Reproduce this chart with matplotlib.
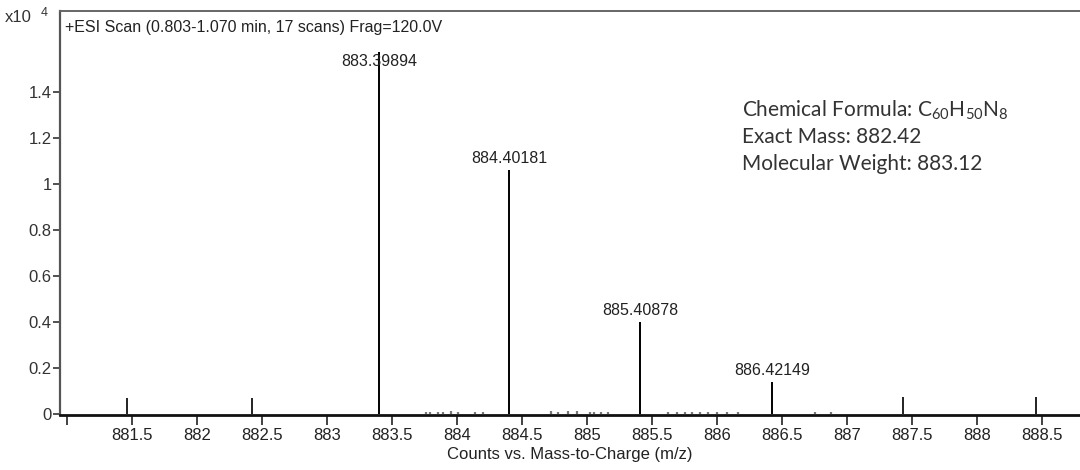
import matplotlib
matplotlib.use("Agg")
import matplotlib.pyplot as plt

# main peaks (m/z, counts x10^4)
peak_mz = [883.39894, 884.40181, 885.40878, 886.42149]
peak_counts = [1.57, 1.06, 0.396, 0.135]
peak_labels = ["883.39894", "884.40181", "885.40878", "886.42149"]

# reference marks
ref_mz = [881.46, 882.42, 887.43, 888.45]
ref_counts = [0.066, 0.068, 0.07, 0.07]

# tiny noise peaks
noise_mz = [883.76, 883.79, 883.85, 883.89, 883.95, 884.01, 884.14, 884.20,
            884.72, 884.78, 884.85, 884.92, 885.02, 885.05, 885.11, 885.16,
            885.62, 885.69, 885.75, 885.81, 885.87, 885.93, 886.00, 886.08,
            886.16, 886.75, 886.88]
noise_counts = [0.005, 0.006, 0.006, 0.008, 0.011, 0.007, 0.006, 0.005,
                0.009, 0.008, 0.012, 0.009, 0.006, 0.005, 0.005, 0.005,
                0.006, 0.005, 0.006, 0.006, 0.006, 0.006, 0.005, 0.006,
                0.007, 0.006, 0.006]

x_ticks = [881.0, 881.5, 882, 882.5, 883, 883.5, 884, 884.5, 885, 885.5,
           886, 886.5, 887, 887.5, 888, 888.5]
x_ticklabels = ["", "881.5", "882", "882.5", "883", "883.5", "884", "884.5",
                "885", "885.5", "886", "886.5", "887", "887.5", "888", "888.5"]
y_ticks = [0, 0.2, 0.4, 0.6, 0.8, 1.0, 1.2, 1.4]
y_ticklabels = ["0", "0.2", "0.4", "0.6", "0.8", "1", "1.2", "1.4"]

info_lines = ["Chemical Formula: $\\mathregular{C_{60}H_{50}N_{8}}$",
              "Exact Mass: 882.42",
              "Molecular Weight: 883.12"]

plt.rcParams["font.family"] = ["Liberation Sans", "DejaVu Sans"]

fig = plt.figure(figsize=(10.8, 4.7), dpi=100)
ax = fig.add_axes([60 / 1080, 1 - 415 / 470, 1 - 60 / 1080, 404 / 470])

ax.vlines(peak_mz, 0, peak_counts, color="black", lw=1.4)
ax.vlines(ref_mz, 0, ref_counts, color="#222222", lw=1.4)
ax.vlines(noise_mz, 0, noise_counts, color="#777777", lw=1.6)

# peak labels sit just above each line, kept under the scan title
for mz, c, lab in zip(peak_mz, peak_counts, peak_labels):
    ax.text(mz, min(c + 0.05, 1.53), lab, ha="center", va="center",
            fontsize=11.5, color="#222222")

ax.set_xlim(880.946, 888.792)
ax.set_ylim(-0.0065, 1.75)
ax.set_xticks(x_ticks)
ax.set_xticklabels(x_ticklabels)
ax.set_yticks(y_ticks)
ax.set_yticklabels(y_ticklabels)
ax.tick_params(axis="x", direction="out", length=7, width=1.2, labelsize=12,
               pad=2, colors="#222222")
ax.tick_params(axis="y", direction="out", length=5, width=1.2, labelsize=12,
               pad=1, colors="#333333")

ax.spines["right"].set_visible(False)
ax.spines["bottom"].set_linewidth(2)
ax.spines["bottom"].set_color("#111111")
ax.spines["left"].set_linewidth(1.6)
ax.spines["left"].set_color("#555555")
ax.spines["top"].set_linewidth(1.4)
ax.spines["top"].set_color("#666666")

ax.set_xlabel("Counts vs. Mass-to-Charge (m/z)", fontsize=12, labelpad=3, color="#222222")

ax.text(0.005, 0.978, "+ESI Scan (0.803-1.070 min, 17 scans) Frag=120.0V",
        transform=ax.transAxes, ha="left", va="top", fontsize=11.5, color="#222222")
fig.text(5 / 1080, 1 - 18 / 470, "x10", ha="left", va="center", fontsize=12, color="#333333")
fig.text(41 / 1080, 1 - 13 / 470, "4", ha="left", va="center", fontsize=9, color="#333333")

plt.rcParams["mathtext.fontset"] = "custom"
plt.rcParams["mathtext.rm"] = "Lato"
for i, line in enumerate(info_lines):
    fig.text(742 / 1080, 1 - (110 + i * 27) / 470, line, ha="left", va="center",
             fontsize=15, family=["Lato", "DejaVu Sans"], color="#333333")

fig.savefig("out.png", dpi=100)
